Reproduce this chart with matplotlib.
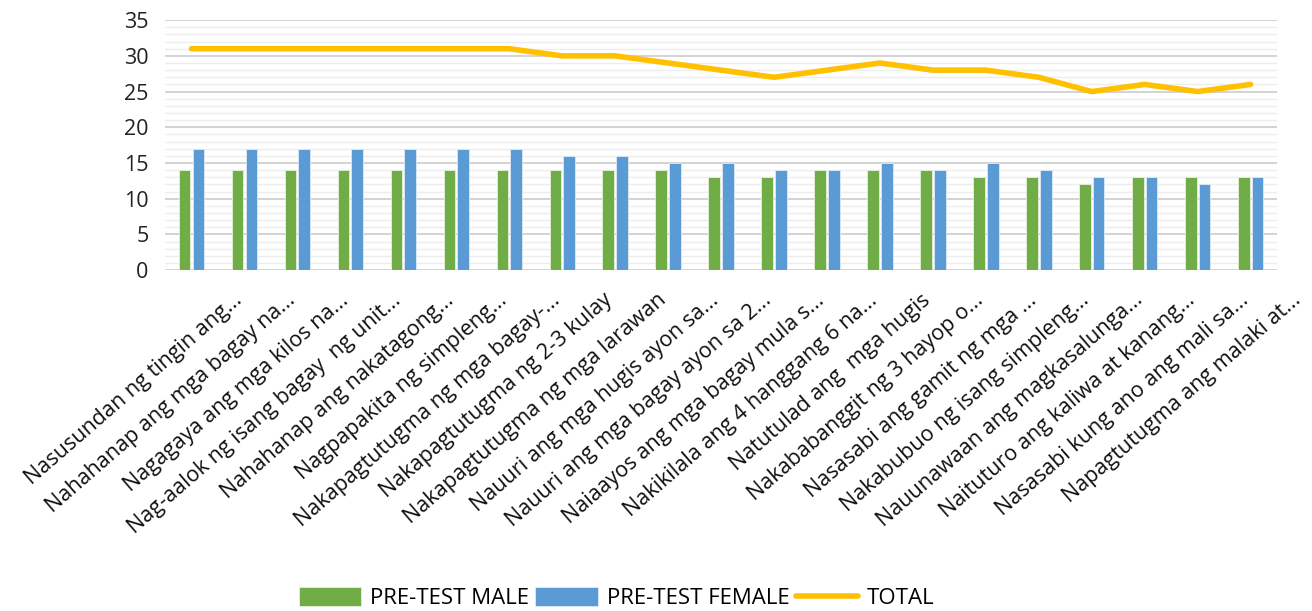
import matplotlib
matplotlib.use('Agg')
import matplotlib.pyplot as plt
import matplotlib.transforms as mtransforms
import numpy as np

plt.rcParams['font.family'] = ['Open Sans', 'DejaVu Sans']

labels = [
    'Nasusundan ng tingin ang...',
    'Nahahanap ang mga bagay na...',
    'Nagagaya ang mga kilos na...',
    'Nag-aalok ng isang bagay  ng unit...',
    'Nahahanap ang nakatagong...',
    'Nagpapakita ng simpleng...',
    'Nakapagtutugma ng mga bagay-...',
    'Nakapagtutugma ng 2-3 kulay',
    'Nakapagtutugma ng mga larawan',
    'Nauuri ang mga hugis ayon sa...',
    'Nauuri ang mga bagay ayon sa 2...',
    'Naiaayos ang mga bagay mula s...',
    'Nakikilala ang 4 hanggang 6 na...',
    'Natutulad ang  mga hugis',
    'Nakababanggit ng 3 hayop o...',
    'Nasasabi ang gamit ng mga ...',
    'Nakabubuo ng isang simpleng...',
    'Nauunawaan ang magkasalunga...',
    'Naituturo ang kaliwa at kanang...',
    'Nasasabi kung ano ang mali sa...',
    'Napagtutugma ang malaki at...',
]
male = [14, 14, 14, 14, 14, 14, 14, 14, 14, 14, 13, 13, 14, 14, 14, 13, 13, 12, 13, 13, 13]
female = [17, 17, 17, 17, 17, 17, 17, 16, 16, 15, 15, 14, 14, 15, 14, 15, 14, 13, 13, 12, 13]
total = [31, 31, 31, 31, 31, 31, 31, 30, 30, 29, 28, 27, 28, 29, 28, 28, 27, 25, 26, 25, 26]

fig = plt.figure(figsize=(13.12, 6.11), dpi=100)
ax = fig.add_axes([0.1258, 0.558, 0.8476, 0.409])

x = np.arange(len(labels))
w = 0.22
b1 = ax.bar(x - 0.13, male, w, color='#70AD47', edgecolor='#E8F0E0', linewidth=0.6, label='PRE-TEST MALE', zorder=3)
b2 = ax.bar(x + 0.13, female, w, color='#5B9BD5', edgecolor='#E0EAF5', linewidth=0.6, label='PRE-TEST FEMALE', zorder=3)
ln, = ax.plot(x, total, color='#FFC000', linewidth=4.0, solid_capstyle='round', label='TOTAL', zorder=4)

ax.set_xlim(-0.5, len(labels) - 0.5)
ax.set_ylim(0, 35)
ax.set_yticks(range(0, 36, 5))
ax.set_yticks(range(0, 36, 1), minor=True)
ax.grid(axis='y', which='major', color='#D0D0D0', linewidth=1.3, zorder=0)
ax.grid(axis='y', which='minor', color='#EDEDED', linewidth=1.0, zorder=0)
ax.grid(axis='x', visible=False)
for s in ax.spines.values():
    s.set_visible(False)
ax.tick_params(axis='y', which='both', length=0, labelsize=15.5, pad=12, colors='#222222')
ax.tick_params(axis='x', length=0, pad=4)
ax.set_xticks(x)
ax.set_xticklabels(labels, rotation=41, ha='right', va='top', rotation_mode='anchor',
                   fontsize=15.5, color='#111111')
shift = mtransforms.ScaledTranslation(0.41, -0.14, fig.dpi_scale_trans)
for t in ax.get_xticklabels():
    t.set_transform(t.get_transform() + shift)

fig.legend(handles=[b1, b2, ln], labels=['PRE-TEST MALE', 'PRE-TEST FEMALE', 'TOTAL'],
           loc='lower center', bbox_to_anchor=(0.47, -0.03), ncol=3, frameon=False,
           fontsize=16, handlelength=2.8, handleheight=0.9, columnspacing=0.3, handletextpad=0.4)

plt.savefig('out.png', dpi=100)
